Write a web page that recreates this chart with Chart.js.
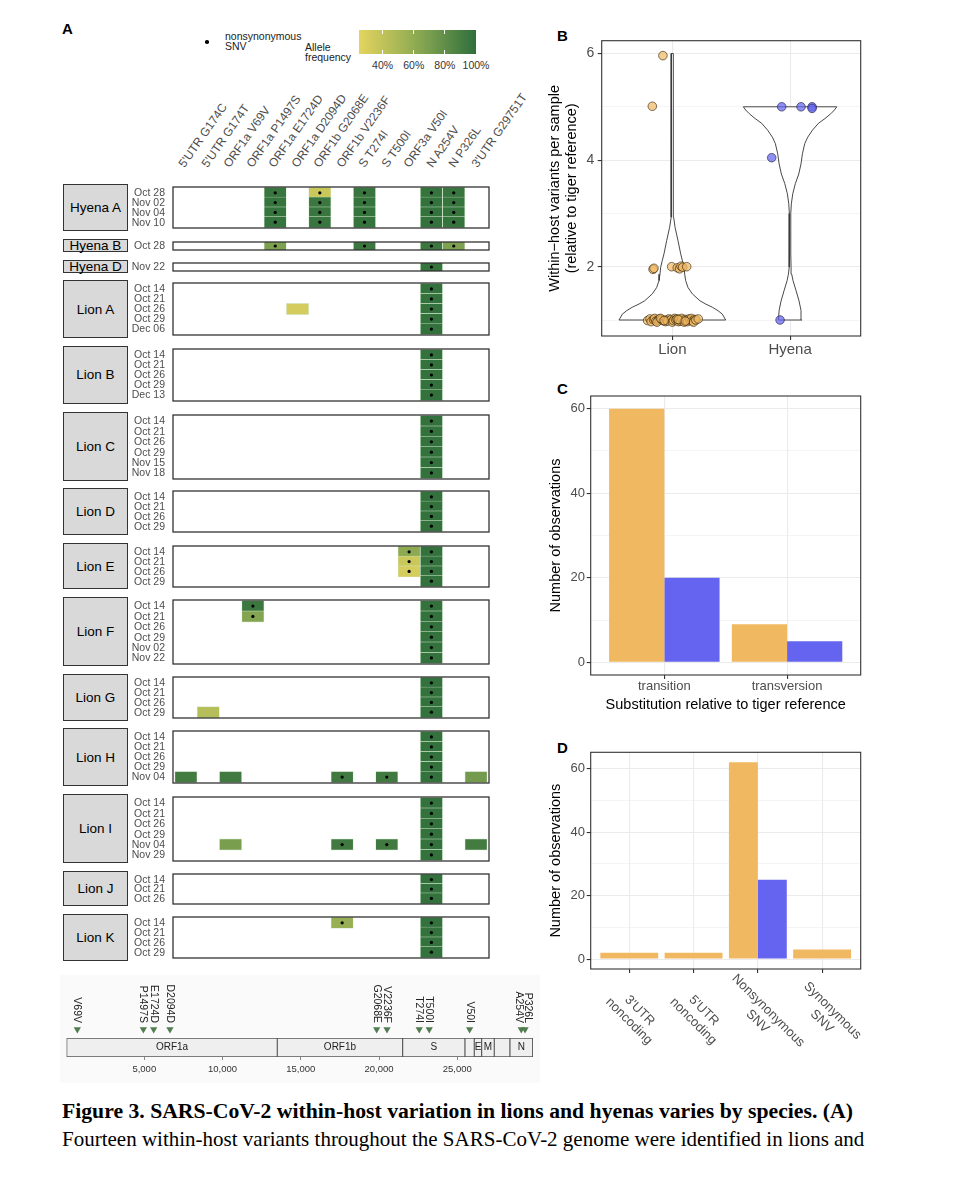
<!DOCTYPE html>
<html>
<head>
<meta charset="utf-8">
<script src="https://cdn.jsdelivr.net/npm/chart.js@4.4.0/dist/chart.umd.min.js"></script>
<style>
  body { margin: 0; background: #fff; }
  #page { position: relative; width: 964px; height: 1191px; overflow: hidden; font-family: "Liberation Sans", Arial, sans-serif; color: #000; }
  #page canvas { position: absolute; }
  .abs { position: absolute; white-space: nowrap; }
  .tag { position: absolute; font-weight: bold; font-size: 15px; line-height: 15px; }
  .grp { position: absolute; box-sizing: border-box; background: #d9d9d9; border: 1px solid #333; display: flex; align-items: center; justify-content: center; font-size: 13.5px; white-space: nowrap; }
  .hdr { position: absolute; font-size: 12px; line-height: 14px; color: #4d4d4d; white-space: nowrap; transform-origin: 0 100%; transform: rotate(-55deg); }
  .leg { position: absolute; font-size: 10.5px; line-height: 10.5px; color: #222; white-space: nowrap; }
  .cap { position: absolute; font-family: "Liberation Serif", "Times New Roman", serif; font-size: 21px; line-height: 28px; white-space: nowrap; }
  .cap b { font-size: 21.7px; }
</style>
</head>
<body>
<div id="page"></div>
<script>
// ---------- Panel A data ----------
const variants = ["5'UTR G174C", "5'UTR G174T", 'ORF1a V69V', 'ORF1a P1497S', 'ORF1a E1724D', 'ORF1a D2094D',
  'ORF1b G2068E', 'ORF1b V2236F', 'S T274I', 'S T500I', 'ORF3a V50I', 'N A254V', 'N P326L', "3'UTR G29751T"];
const nonsynonymous = [0, 0, 0, 1, 1, 0, 1, 1, 1, 1, 1, 1, 1, 0];

const animals = ['Hyena A', 'Hyena B', 'Hyena D', 'Lion A', 'Lion B', 'Lion C', 'Lion D',
  'Lion E', 'Lion F', 'Lion G', 'Lion H', 'Lion I', 'Lion J', 'Lion K'];
const sampleDates = [
  ['Oct 28', 'Nov 02', 'Nov 04', 'Nov 10'],
  ['Oct 28'],
  ['Nov 22'],
  ['Oct 14', 'Oct 21', 'Oct 26', 'Oct 29', 'Dec 06'],
  ['Oct 14', 'Oct 21', 'Oct 26', 'Oct 29', 'Dec 13'],
  ['Oct 14', 'Oct 21', 'Oct 26', 'Oct 29', 'Nov 15', 'Nov 18'],
  ['Oct 14', 'Oct 21', 'Oct 26', 'Oct 29'],
  ['Oct 14', 'Oct 21', 'Oct 26', 'Oct 29'],
  ['Oct 14', 'Oct 21', 'Oct 26', 'Oct 29', 'Nov 02', 'Nov 22'],
  ['Oct 14', 'Oct 21', 'Oct 26', 'Oct 29'],
  ['Oct 14', 'Oct 21', 'Oct 26', 'Oct 29', 'Nov 04'],
  ['Oct 14', 'Oct 21', 'Oct 26', 'Oct 29', 'Nov 04', 'Nov 29'],
  ['Oct 14', 'Oct 21', 'Oct 26'],
  ['Oct 14', 'Oct 21', 'Oct 26', 'Oct 29']
];
// allele frequency per sample, one column per variant (0 = not detected)
const alleleFreq = [
  [ // Hyena A
    [0, 0, 0, 0, .96, 0, .36, 0, .96, 0, 0, .97, .96, 0],
    [0, 0, 0, 0, .97, 0, .95, 0, .97, 0, 0, .98, .97, 0],
    [0, 0, 0, 0, .97, 0, .96, 0, .97, 0, 0, .98, .97, 0],
    [0, 0, 0, 0, .97, 0, .96, 0, .97, 0, 0, .98, .97, 0]
  ],
  [ // Hyena B
    [0, 0, 0, 0, .68, 0, 0, 0, .95, 0, 0, .95, .68, 0]
  ],
  [ // Hyena D
    [0, 0, 0, 0, 0, 0, 0, 0, 0, 0, 0, .97, 0, 0]
  ],
  [ // Lion A
    [0, 0, 0, 0, 0, 0, 0, 0, 0, 0, 0, .98, 0, 0],
    [0, 0, 0, 0, 0, 0, 0, 0, 0, 0, 0, .98, 0, 0],
    [0, 0, 0, 0, 0, .32, 0, 0, 0, 0, 0, .98, 0, 0],
    [0, 0, 0, 0, 0, 0, 0, 0, 0, 0, 0, .98, 0, 0],
    [0, 0, 0, 0, 0, 0, 0, 0, 0, 0, 0, .98, 0, 0]
  ],
  [ // Lion B
    [0, 0, 0, 0, 0, 0, 0, 0, 0, 0, 0, .98, 0, 0],
    [0, 0, 0, 0, 0, 0, 0, 0, 0, 0, 0, .98, 0, 0],
    [0, 0, 0, 0, 0, 0, 0, 0, 0, 0, 0, .98, 0, 0],
    [0, 0, 0, 0, 0, 0, 0, 0, 0, 0, 0, .98, 0, 0],
    [0, 0, 0, 0, 0, 0, 0, 0, 0, 0, 0, .98, 0, 0]
  ],
  [ // Lion C
    [0, 0, 0, 0, 0, 0, 0, 0, 0, 0, 0, .98, 0, 0],
    [0, 0, 0, 0, 0, 0, 0, 0, 0, 0, 0, .98, 0, 0],
    [0, 0, 0, 0, 0, 0, 0, 0, 0, 0, 0, .98, 0, 0],
    [0, 0, 0, 0, 0, 0, 0, 0, 0, 0, 0, .98, 0, 0],
    [0, 0, 0, 0, 0, 0, 0, 0, 0, 0, 0, .98, 0, 0],
    [0, 0, 0, 0, 0, 0, 0, 0, 0, 0, 0, .98, 0, 0]
  ],
  [ // Lion D
    [0, 0, 0, 0, 0, 0, 0, 0, 0, 0, 0, .98, 0, 0],
    [0, 0, 0, 0, 0, 0, 0, 0, 0, 0, 0, .98, 0, 0],
    [0, 0, 0, 0, 0, 0, 0, 0, 0, 0, 0, .98, 0, 0],
    [0, 0, 0, 0, 0, 0, 0, 0, 0, 0, 0, .98, 0, 0]
  ],
  [ // Lion E
    [0, 0, 0, 0, 0, 0, 0, 0, 0, 0, .62, .98, 0, 0],
    [0, 0, 0, 0, 0, 0, 0, 0, 0, 0, .36, .98, 0, 0],
    [0, 0, 0, 0, 0, 0, 0, 0, 0, 0, .32, .98, 0, 0],
    [0, 0, 0, 0, 0, 0, 0, 0, 0, 0, 0, .98, 0, 0]
  ],
  [ // Lion F
    [0, 0, 0, .95, 0, 0, 0, 0, 0, 0, 0, .98, 0, 0],
    [0, 0, 0, .66, 0, 0, 0, 0, 0, 0, 0, .98, 0, 0],
    [0, 0, 0, 0, 0, 0, 0, 0, 0, 0, 0, .98, 0, 0],
    [0, 0, 0, 0, 0, 0, 0, 0, 0, 0, 0, .98, 0, 0],
    [0, 0, 0, 0, 0, 0, 0, 0, 0, 0, 0, .98, 0, 0],
    [0, 0, 0, 0, 0, 0, 0, 0, 0, 0, 0, .98, 0, 0]
  ],
  [ // Lion G
    [0, 0, 0, 0, 0, 0, 0, 0, 0, 0, 0, .98, 0, 0],
    [0, 0, 0, 0, 0, 0, 0, 0, 0, 0, 0, .98, 0, 0],
    [0, 0, 0, 0, 0, 0, 0, 0, 0, 0, 0, .98, 0, 0],
    [0, .45, 0, 0, 0, 0, 0, 0, 0, 0, 0, .98, 0, 0]
  ],
  [ // Lion H
    [0, 0, 0, 0, 0, 0, 0, 0, 0, 0, 0, .98, 0, 0],
    [0, 0, 0, 0, 0, 0, 0, 0, 0, 0, 0, .98, 0, 0],
    [0, 0, 0, 0, 0, 0, 0, 0, 0, 0, 0, .98, 0, 0],
    [0, 0, 0, 0, 0, 0, 0, 0, 0, 0, 0, .98, 0, 0],
    [.92, 0, .93, 0, 0, 0, 0, .93, 0, .93, 0, .98, 0, .72]
  ],
  [ // Lion I
    [0, 0, 0, 0, 0, 0, 0, 0, 0, 0, 0, .98, 0, 0],
    [0, 0, 0, 0, 0, 0, 0, 0, 0, 0, 0, .98, 0, 0],
    [0, 0, 0, 0, 0, 0, 0, 0, 0, 0, 0, .98, 0, 0],
    [0, 0, 0, 0, 0, 0, 0, 0, 0, 0, 0, .98, 0, 0],
    [0, 0, .70, 0, 0, 0, 0, .93, 0, .93, 0, .98, 0, .92],
    [0, 0, 0, 0, 0, 0, 0, 0, 0, 0, 0, .98, 0, 0]
  ],
  [ // Lion J
    [0, 0, 0, 0, 0, 0, 0, 0, 0, 0, 0, .98, 0, 0],
    [0, 0, 0, 0, 0, 0, 0, 0, 0, 0, 0, .98, 0, 0],
    [0, 0, 0, 0, 0, 0, 0, 0, 0, 0, 0, .98, 0, 0]
  ],
  [ // Lion K
    [0, 0, 0, 0, 0, 0, 0, .58, 0, 0, 0, .98, 0, 0],
    [0, 0, 0, 0, 0, 0, 0, 0, 0, 0, 0, .98, 0, 0],
    [0, 0, 0, 0, 0, 0, 0, 0, 0, 0, 0, .98, 0, 0],
    [0, 0, 0, 0, 0, 0, 0, 0, 0, 0, 0, .98, 0, 0]
  ]
];
const colorbarTicks = [0.4, 0.6, 0.8, 1.0];

// genome map
const geneNames = ['ORF1a', 'ORF1b', 'S', '', 'E', 'M', '', 'N'];
const geneStart = [43, 13498, 21511, 25492, 26086, 26559, 27364, 28367];
const geneEnd = [13498, 21511, 25492, 26086, 26559, 27364, 28367, 29818];
const siteLabels = ['V69V', 'P1497S', 'E1724D', 'D2094D', 'G2068E', 'V2236F', 'T274I', 'T500I', 'V50I', 'A254V', 'P326L'];
const sitePositions = [720, 4940, 5600, 6640, 19850, 20510, 22570, 23210, 25790, 29090, 29330];
const genomeTicks = [5000, 10000, 15000, 20000, 25000];

// ---------- Panel B data ----------
const species = ['Lion', 'Hyena'];
const lionY = [5.96, 5.01,
  1.95, 1.97, 2.00, 1.98, 1.96, 2.01, 1.99, 2.00,
  0.99, 1.02, 0.97, 1.01, 1.03, 0.98, 1.00, 1.02, 0.96, 1.01, 0.99, 1.03, 0.97, 1.00,
  1.02, 0.98, 1.01, 0.96, 1.03, 0.99, 1.00, 0.97, 1.02, 1.01, 0.98, 1.00, 1.03, 0.96,
  1.01, 0.99, 1.02, 0.97, 1.00, 1.03, 0.98, 1.01, 0.96, 1.00, 1.02, 0.99, 1.01, 0.98];
const lionX = [-0.08, -0.17,
  -0.164, -0.156, -0.006, 0.042, 0.062, 0.074, 0.088, 0.122,
  -0.21, -0.19, -0.18, -0.16, -0.15, -0.14, -0.12, -0.11, -0.13, -0.09, -0.08, -0.10, -0.06, -0.05,
  -0.03, -0.04, -0.01, 0.00, 0.02, 0.01, 0.03, 0.05, 0.04, 0.06, 0.07, 0.09, 0.08, 0.10,
  0.11, 0.12, 0.14, 0.13, 0.15, 0.16, 0.17, 0.19, 0.18, 0.20, 0.22, -0.07, 0.05, 0.11];
const hyenaY = [5.00, 5.00, 5.00, 4.97, 4.045, 1.00];
const hyenaX = [-0.071, 0.093, 0.187, 0.187, -0.156, -0.085];
// violin outlines: value and half width
const lionViolinY = [1.00, 1.11, 1.175, 1.24, 1.30, 1.36, 1.49, 1.61, 1.74, 1.86, 1.99, 2.12, 2.24, 2.49, 2.74, 2.93, 3.12, 6.00];
const lionViolinW = [0.453, 0.425, 0.388, 0.34, 0.283, 0.235, 0.17, 0.133, 0.113, 0.105, 0.099, 0.085, 0.071, 0.048, 0.023, 0.011, 0.0085, 0.0085];
const hyenaViolinY = [1.00, 1.18, 1.36, 1.55, 1.74, 1.86, 1.99, 2.24, 3.00, 3.18, 3.37, 3.56, 3.74, 3.93, 4.12, 4.31, 4.43, 4.56, 4.69, 4.78, 4.87, 4.94, 5.00];
const hyenaViolinW = [0.099, 0.093, 0.076, 0.051, 0.025, 0.014, 0.0085, 0.006, 0.006, 0.011, 0.023, 0.045, 0.074, 0.093, 0.105, 0.125, 0.15, 0.19, 0.241, 0.297, 0.346, 0.377, 0.397];

// ---------- Panel C / D data ----------
const substitutionTypes = ['transition', 'transversion'];
const lionSubst = [60, 9];
const hyenaSubst = [20, 5];
const effectTypes = [["3'UTR", 'noncoding'], ["5'UTR", 'noncoding'], ['Nonsynonymous', 'SNV'], ['Synonymous', 'SNV']];
const lionEffect = [2, 2, 62, 3];
const hyenaEffect = [null, null, 25, null];

// ---------- common ----------
const page = document.getElementById('page');
const LION = '#f1b862', HYENA = '#6464f0';
const GRID = '#ebebeb', INK = '#333333', TICK_TXT = '#4d4d4d';
const FONT = '"Liberation Sans", Arial, sans-serif';

Chart.defaults.font.family = FONT;
Chart.defaults.animation = false;
Chart.defaults.responsive = false;
Chart.defaults.plugins.legend.display = false;
Chart.defaults.plugins.tooltip.enabled = false;

const addCanvas = (x, y, w, h) => {
  const c = document.createElement('canvas');
  c.width = w; c.height = h;
  c.style.left = x + 'px'; c.style.top = y + 'px';
  page.appendChild(c);
  return c;
};
const addDiv = (cls, x, y, html, extra) => {
  const d = document.createElement('div');
  d.className = cls;
  d.style.left = x + 'px'; d.style.top = y + 'px';
  d.innerHTML = html;
  if (extra) Object.assign(d.style, extra);
  page.appendChild(d);
  return d;
};

// panel frame drawn over the data
const panelBorder = {
  id: 'panelBorder',
  afterDraw(chart, args, opts) {
    const { ctx, chartArea: a } = chart;
    ctx.save();
    ctx.strokeStyle = opts.color || INK;
    ctx.lineWidth = opts.width || 1.1;
    ctx.strokeRect(a.left, a.top, a.right - a.left, a.bottom - a.top);
    ctx.restore();
  }
};

// sample dates left of each box
const dateLabels = {
  id: 'dateLabels',
  afterDraw(chart, args, opts) {
    const { ctx, chartArea, scales: { y } } = chart;
    ctx.save();
    ctx.fillStyle = TICK_TXT;
    ctx.font = '10.5px ' + FONT;
    ctx.textAlign = 'right'; ctx.textBaseline = 'middle';
    opts.labels.forEach((d, i) => ctx.fillText(d, chartArea.left - 8, y.getPixelForValue(i) + 0.5));
    ctx.restore();
  }
};

// allele frequency colour scale (25% .. 100%)
const afStops = [[0.25, [228, 212, 94]], [0.6, [146, 173, 84]], [1.0, [47, 111, 60]]];
const afColor = (af) => {
  const f = Math.max(0.25, Math.min(1, af));
  for (let i = 1; i < afStops.length; i++) {
    if (f <= afStops[i][0]) {
      const [f0, c0] = afStops[i - 1], [f1, c1] = afStops[i];
      const t = (f - f0) / (f1 - f0);
      const c = c0.map((v, k) => Math.round(v + (c1[k] - v) * t));
      return `rgb(${c[0]},${c[1]},${c[2]})`;
    }
  }
  return 'rgb(47,111,60)';
};

// ---------- Panel A ----------
addDiv('tag', 62, 21, 'A');
addDiv('abs', 205.3, 40.3, '', { width: '3.5px', height: '3.5px', borderRadius: '50%', background: '#000' });
addDiv('leg', 225, 30.5, 'nonsynonymous<br>SNV');
addDiv('leg', 305, 41.5, 'Allele<br>frequency');
const cbLeft = 359.3, cbWidth = 116.7;
const cbStops = [0.25, 0.4, 0.55, 0.7, 0.85, 1.0].map(f => `${afColor(f)} ${((f - 0.25) / 0.75 * 100).toFixed(1)}%`);
addDiv('abs', cbLeft, 30, '', { width: cbWidth + 'px', height: '24.3px', background: `linear-gradient(to right, ${cbStops.join(',')})` });
colorbarTicks.forEach(f => {
  const x = cbLeft + (f - 0.25) / 0.75 * cbWidth;
  addDiv('abs', x - 0.5, 30, '', { width: '1px', height: '4px', background: '#fff' });
  addDiv('abs', x - 0.5, 50.3, '', { width: '1px', height: '4px', background: '#fff' });
  addDiv('leg', x - 20, 60, Math.round(f * 100) + '%', { width: '40px', textAlign: 'center', color: '#333' });
});

const ROW = 11.2, GAP = 7.6;
const colLeft = 173, colRight = 491.7, xMin = -0.58, xMax = 13.58;
const colW = (colRight - colLeft) / (xMax - xMin);

variants.forEach((v, i) => {
  const x = colLeft + (i - xMin) * colW;
  addDiv('hdr', x + 1, 170 - 14, v);
});

let boxTop = 184.3;
animals.forEach((name, g) => {
  const dates = sampleDates[g];
  const boxH = dates.length * ROW + 2;
  addDiv('grp', 63.3, boxTop, name, { width: '64.4px', height: boxH + 'px' });

  const cells = [], dots = [];
  alleleFreq[g].forEach((row, r) => row.forEach((af, v) => {
    if (!af) return;
    cells.push({ x: [v - 0.5, v + 0.5], y: r, af: af });
    if (nonsynonymous[v]) dots.push({ x: v, y: r });
  }));

  const H = Math.ceil(boxH + 2);
  const cv = addCanvas(128, boxTop - 1, 365, H);
  const padRows = (boxH - dates.length * ROW) / 2 / ROW;
  new Chart(cv, {
    type: 'bar',
    data: {
      datasets: [
        { type: 'scatter', data: dots, pointRadius: 1.6, pointBorderWidth: 0, backgroundColor: '#000', order: 0 },
        {
          type: 'bar', indexAxis: 'y', data: cells, grouped: false, barThickness: ROW,
          backgroundColor: c => afColor(c.raw ? c.raw.af : 1),
          borderColor: 'rgba(214,234,208,0.95)', borderWidth: 0.7, borderSkipped: false, order: 1
        }
      ]
    },
    options: {
      layout: { padding: { top: 1, bottom: H - boxH - 1, left: 45, right: 1.3 } },
      scales: {
        x: { type: 'linear', min: xMin, max: xMax, display: false, offset: false, grid: { offset: false } },
        y: {
          type: 'linear', reverse: true, offset: false, display: false, grid: { offset: false },
          min: -0.5 - padRows, max: dates.length - 0.5 + padRows
        }
      },
      plugins: { panelBorder: { width: 1.3, color: '#333' }, dateLabels: { labels: dates } }
    },
    plugins: [panelBorder, dateLabels]
  });
  boxTop += boxH + GAP;
});

// genome map
addDiv('abs', 60, 975, '', { width: '480px', height: '108px', background: '#fafafa' });
const genomeLabels = {
  id: 'genomeLabels',
  afterDraw(chart) {
    const { ctx, scales: { x, y } } = chart;
    ctx.save();
    ctx.fillStyle = '#222';
    ctx.font = '10px ' + FONT;
    ctx.textAlign = 'center'; ctx.textBaseline = 'middle';
    geneNames.forEach((n, i) => {
      if (n) ctx.fillText(n, x.getPixelForValue((geneStart[i] + geneEnd[i]) / 2), y.getPixelForValue(9.5));
    });
    // spread labels whose sites sit too close together
    const px = sitePositions.map(p => x.getPixelForValue(p));
    const lx = px.slice();
    for (let i = 1; i < lx.length; i++) {
      const gap = lx[i] - lx[i - 1];
      if (gap < 9) { lx[i - 1] -= (9 - gap) / 2; lx[i] += (9 - gap) / 2; }
    }
    ctx.font = '10.5px ' + FONT;
    ctx.textAlign = 'right';
    siteLabels.forEach((s, i) => {
      ctx.save();
      ctx.translate(lx[i], y.getPixelForValue(34));
      ctx.rotate(Math.PI / 2);
      ctx.fillText(s, 0, 0);
      ctx.restore();
    });
    ctx.restore();
  }
};
new Chart(addCanvas(60, 975, 480, 110), {
  type: 'bar',
  data: {
    datasets: [
      {
        type: 'scatter', data: sitePositions.map(p => ({ x: p, y: 27.7 })),
        pointStyle: 'triangle', rotation: 180, pointRadius: 4.2, pointBorderWidth: 0, backgroundColor: '#517d51', order: 0
      },
      {
        type: 'bar', indexAxis: 'y', data: geneStart.map((s, i) => ({ x: [s, geneEnd[i]], y: 9.5 })),
        grouped: false, barThickness: 18.4, backgroundColor: '#efefef', borderColor: '#555', borderWidth: 0.9,
        borderSkipped: false, order: 1
      }
    ]
  },
  options: {
    layout: { padding: { left: 6.05, right: 6, top: 5, bottom: 0 } },
    scales: {
      x: {
        type: 'linear', min: 0, max: 29903, offset: false,
        afterBuildTicks: s => { s.ticks = genomeTicks.map(v => ({ value: v })); },
        ticks: { callback: v => v.toLocaleString('en-US'), color: '#333', font: { size: 9.5 }, padding: 4, maxRotation: 0 },
        grid: { drawOnChartArea: false, tickLength: 3, color: '#888', offset: false },
        border: { display: false },
        afterFit: s => { s.height = 28; }
      },
      y: { type: 'linear', min: 0, max: 77, display: false, offset: false, grid: { offset: false } }
    }
  },
  plugins: [genomeLabels]
});

// ---------- Panel B ----------
addDiv('tag', 557, 28, 'B');
const violinShape = (c, ys, ws) => {
  const pts = ys.map((y, i) => ({ x: c + ws[i], y: y }));
  for (let i = ys.length - 1; i >= 0; i--) pts.push({ x: c - ws[i], y: ys[i] });
  pts.push({ x: c + ws[0], y: ys[0] });
  return pts;
};
const major = c => c.tick && c.tick.value % 2 === 0;
new Chart(addCanvas(540, 25, 330, 340), {
  type: 'scatter',
  data: {
    datasets: [
      {
        data: lionY.map((y, i) => ({ x: 1 + lionX[i], y: y })), pointRadius: 4.3, borderWidth: 0.8,
        backgroundColor: 'rgba(241,184,98,0.7)', borderColor: 'rgba(40,28,5,0.75)', order: 0
      },
      {
        data: hyenaY.map((y, i) => ({ x: 2 + hyenaX[i], y: y })), pointRadius: 4.3, borderWidth: 0.8,
        backgroundColor: 'rgba(100,100,240,0.72)', borderColor: 'rgba(20,20,60,0.75)', order: 0
      },
      {
        data: violinShape(1, lionViolinY, lionViolinW), showLine: true, fill: 'shape', backgroundColor: '#fff',
        borderColor: '#333', borderWidth: 0.9, pointRadius: 0, tension: 0, order: 1
      },
      {
        data: violinShape(2, hyenaViolinY, hyenaViolinW), showLine: true, fill: 'shape', backgroundColor: '#fff',
        borderColor: '#333', borderWidth: 0.9, pointRadius: 0, tension: 0, order: 1
      }
    ]
  },
  options: {
    layout: { padding: { top: 15.7, right: 9.3, left: 0, bottom: 0 } },
    scales: {
      x: {
        type: 'linear', min: 0.4, max: 2.6, offset: false,
        afterBuildTicks: s => { s.ticks = [1, 2].map(v => ({ value: v })); },
        ticks: { callback: v => species[v - 1], color: TICK_TXT, font: { size: 15 }, padding: 1, maxRotation: 0 },
        grid: { color: GRID, lineWidth: 1.1, tickColor: INK, tickLength: 4, offset: false },
        border: { display: false },
        afterFit: s => { s.height = 29; }
      },
      y: {
        type: 'linear', min: 0.7, max: 6.24, offset: false,
        afterBuildTicks: s => { s.ticks = [1, 2, 3, 4, 5, 6].map(v => ({ value: v })); },
        ticks: { callback: v => (v % 2 === 0 ? String(v) : ''), color: TICK_TXT, font: { size: 14 }, padding: 3.4 },
        grid: {
          color: GRID, lineWidth: c => (major(c) ? 1.1 : 0.55),
          tickColor: c => (major(c) ? INK : 'rgba(0,0,0,0)'), tickLength: 4, offset: false
        },
        border: { display: false },
        title: {
          display: true, text: ['Within\u2212host variants per sample', '(relative to tiger reference)'],
          color: '#000', font: { size: 14.5 }, padding: { top: 6, bottom: 0 }
        },
        afterFit: s => { s.width = 61.7; }
      }
    }
  },
  plugins: [panelBorder]
});

// ---------- Panel C ----------
addDiv('tag', 557, 381.3, 'C');
const major20 = c => c.tick && c.tick.value % 20 === 0;
const countAxis = (min, max, pad) => ({
  type: 'linear', min: min, max: max, offset: false,
  afterBuildTicks: s => { s.ticks = [0, 10, 20, 30, 40, 50, 60].map(v => ({ value: v })); },
  ticks: { callback: v => (v % 20 === 0 ? String(v) : ''), color: TICK_TXT, font: { size: 13 }, padding: 1.7 },
  grid: {
    color: GRID, lineWidth: c => (major20(c) ? 1.1 : 0.55),
    tickColor: c => (major20(c) ? INK : 'rgba(0,0,0,0)'), tickLength: 4, offset: false
  },
  border: { display: false },
  title: { display: true, text: 'Number of observations', color: '#000', font: { size: 14.5 }, padding: { top: pad, bottom: 0 } },
  afterFit: s => { s.width = 50.7; }
});
new Chart(addCanvas(540, 380, 330, 340), {
  type: 'bar',
  data: {
    datasets: [
      { label: 'Lion', data: lionSubst.map((v, i) => ({ x: i + 1, y: v })), backgroundColor: LION, categoryPercentage: 0.9, barPercentage: 1 },
      { label: 'Hyena', data: hyenaSubst.map((v, i) => ({ x: i + 1, y: v })), backgroundColor: HYENA, categoryPercentage: 0.9, barPercentage: 1 }
    ]
  },
  options: {
    layout: { padding: { top: 16, right: 9.3, left: 0, bottom: 0 } },
    scales: {
      x: {
        type: 'linear', min: 0.4, max: 2.6, offset: false,
        afterBuildTicks: s => { s.ticks = [1, 2].map(v => ({ value: v })); },
        ticks: { callback: v => substitutionTypes[v - 1], color: TICK_TXT, font: { size: 13 }, padding: 0, maxRotation: 0, autoSkip: false },
        grid: { color: GRID, lineWidth: 1.1, tickColor: INK, tickLength: 4, offset: false },
        border: { display: false },
        title: { display: true, text: 'Substitution relative to tiger reference', color: '#000', font: { size: 14.5 }, padding: { top: 0, bottom: 6.3 } },
        afterFit: s => { s.height = 45; }
      },
      y: countAxis(-3, 63, 7.3)
    }
  },
  plugins: [panelBorder]
});

// ---------- Panel D ----------
addDiv('tag', 557, 739.7, 'D');
const effectLabels = {
  id: 'effectLabels',
  afterDraw(chart) {
    const { ctx, chartArea, scales: { x } } = chart;
    ctx.save();
    ctx.fillStyle = TICK_TXT;
    ctx.font = '13px ' + FONT;
    ctx.textAlign = 'center'; ctx.textBaseline = 'middle';
    effectTypes.forEach((lines, i) => {
      ctx.save();
      ctx.translate(x.getPixelForValue(i + 1) + 5, chartArea.bottom + 47);
      ctx.rotate(Math.PI / 4);
      ctx.fillText(lines[0], 0, -7.5);
      ctx.fillText(lines[1], 0, 7.5);
      ctx.restore();
    });
    ctx.restore();
  }
};
new Chart(addCanvas(540, 735, 330, 330), {
  type: 'bar',
  data: {
    datasets: [
      { label: 'Lion', data: lionEffect.map((v, i) => ({ x: i + 1, y: v })), backgroundColor: LION, categoryPercentage: 0.9, barPercentage: 1, skipNull: true },
      { label: 'Hyena', data: hyenaEffect.map((v, i) => ({ x: i + 1, y: v })), backgroundColor: HYENA, categoryPercentage: 0.9, barPercentage: 1, skipNull: true }
    ]
  },
  options: {
    layout: { padding: { top: 17.3, right: 9.3, left: 0, bottom: 0 } },
    scales: {
      x: {
        type: 'linear', min: 0.4, max: 4.6, offset: false,
        afterBuildTicks: s => { s.ticks = [1, 2, 3, 4].map(v => ({ value: v })); },
        ticks: { callback: () => '', padding: 0, maxRotation: 0, autoSkip: false },
        grid: { color: GRID, lineWidth: 1.1, tickColor: INK, tickLength: 4, offset: false },
        border: { display: false },
        afterFit: s => { s.height = 96; }
      },
      y: countAxis(-3.1, 65.1, 7.3)
    }
  },
  plugins: [panelBorder, effectLabels]
});

// ---------- caption ----------
addDiv('cap', 62, 1097,
  '<b>Figure 3. SARS-CoV-2 within-host variation in lions and hyenas varies by species. (A)</b><br>' +
  'Fourteen within-host variants throughout the SARS-CoV-2 genome were identified in lions and');
</script>
</body>
</html>
